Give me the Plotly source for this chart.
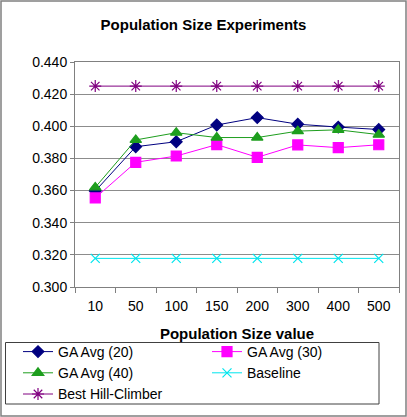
import plotly.graph_objects as go

categories = ["10", "50", "100", "150", "200", "300", "400", "500"]
ga20 = [0.3597, 0.3873, 0.3904, 0.4008, 0.4054, 0.4013, 0.3995, 0.3980]
ga30 = [0.3554, 0.3776, 0.3815, 0.3886, 0.3807, 0.3884, 0.3867, 0.3885]
ga40 = [0.3620, 0.3915, 0.3960, 0.3930, 0.3930, 0.3970, 0.3978, 0.3948]
baseline = [0.3178] * 8
hill = [0.4250] * 8

W, H = 407, 417
ml, mr, mt, mb = 75, 8, 62, 130
pw, ph = W - ml - mr, H - mt - mb


def px_x(v):
    return (v - ml) / pw


def px_y(v):
    return (ph + mt - v) / ph


fig = go.Figure()
series = [
    ("GA Avg (20)", ga20, "#000080", "diamond", 9),
    ("GA Avg (30)", ga30, "#FF00FF", "square", 10),
    ("GA Avg (40)", ga40, "#1E9E1E", "triangle-up", 10),
    ("Baseline", baseline, "#00E5EE", "x-thin-open", 9),
    ("Best Hill-Climber", hill, "#800080", "asterisk-open", 10),
]
for name, vals, col, sym, sz in series:
    fig.add_trace(go.Scatter(
        x=categories, y=vals, name=name, mode="lines+markers",
        line=dict(color=col, width=1),
        marker=dict(symbol=sym, size=sz, color=col, line=dict(color=col, width=1.2)),
    ))

# outer chart border
fig.add_shape(type="rect", xref="paper", yref="paper",
              x0=px_x(1), x1=px_x(W - 1), y0=px_y(H - 1), y1=px_y(1),
              line=dict(color="#808080", width=1.5), fillcolor="rgba(0,0,0,0)", layer="below")
# legend box
fig.add_shape(type="rect", xref="paper", yref="paper",
              x0=px_x(5.5), x1=px_x(379), y0=px_y(404), y1=px_y(342.5),
              line=dict(color="#404040", width=1), fillcolor="rgba(0,0,0,0)", layer="above")

fig.update_layout(
    width=W, height=H,
    margin=dict(l=ml, r=mr, t=mt, b=mb, autoexpand=False),
    paper_bgcolor="white", plot_bgcolor="white",
    font=dict(family="Liberation Sans, Arial", size=14, color="black"),
    title=dict(text="<b>Population Size Experiments</b>", x=0.5, xanchor="center",
               y=1 - 25 / H, yanchor="middle", font=dict(size=15)),
    xaxis=dict(type="category", showgrid=False, ticks="outside", tickson="boundaries",
               ticklen=5, tickcolor="#808080", showline=True, linecolor="#808080",
               mirror=True, ticklabelstandoff=6,
               title=dict(text="<b>Population Size value</b>", font=dict(size=15), standoff=15),
               range=[-0.5, 7.5], tickfont=dict(size=14)),
    yaxis=dict(range=[0.3, 0.44], dtick=0.02, tickformat=".3f", showgrid=True,
               gridcolor="#8c8c8c", gridwidth=1, ticks="outside", ticklen=4,
               tickcolor="#808080", showline=True, linecolor="#808080", mirror=True,
               zeroline=False, tickfont=dict(size=14)),
    legend=dict(orientation="h", xref="paper", yref="paper",
                x=px_x(18), y=px_y(336), xanchor="left", yanchor="top",
                entrywidth=144, entrywidthmode="pixels",
                bordercolor="rgba(0,0,0,0)", borderwidth=0, bgcolor="rgba(0,0,0,0)",
                font=dict(size=14), tracegroupgap=0, itemwidth=30),
    showlegend=True,
)

fig.write_html("out.html")
